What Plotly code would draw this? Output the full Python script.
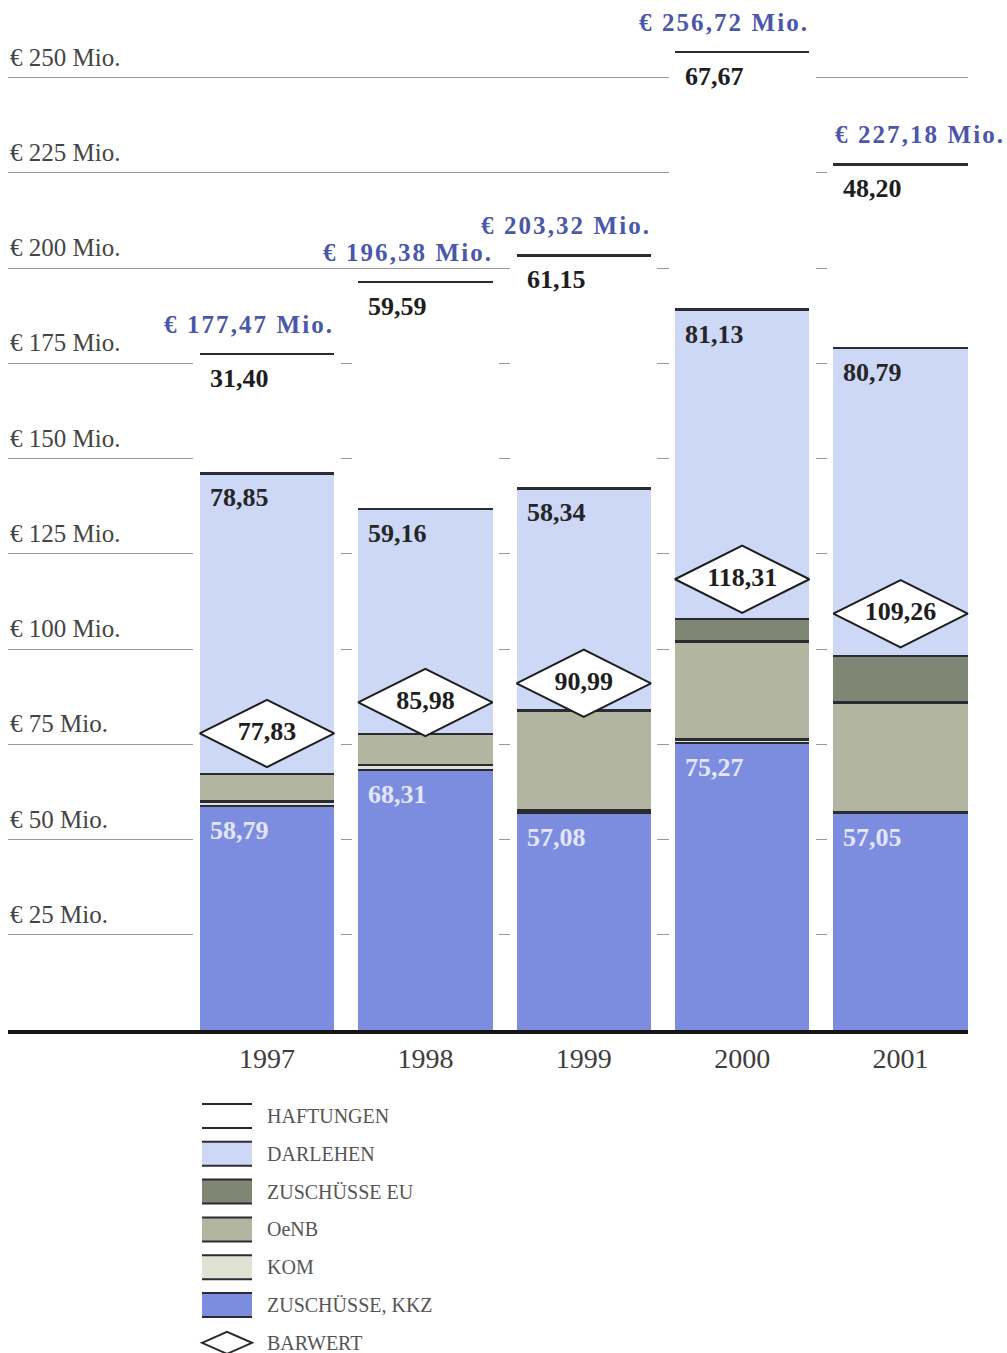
import plotly.graph_objects as go

# --- data (Mio. EUR) -------------------------------------------------------
jahre = ["1997", "1998", "1999", "2000", "2001"]
zuschuesse_kkz = [58.79, 68.31, 57.08, 75.27, 57.05]
kom = [1.20, 1.20, 0.50, 1.00, 0.00]
oenb = [7.23, 8.12, 26.25, 25.65, 28.94]
zuschuesse_eu = [0.00, 0.00, 0.00, 6.00, 12.20]
darlehen = [78.85, 59.16, 58.34, 81.13, 80.79]
haftungen = [31.40, 59.59, 61.15, 67.67, 48.20]
barwert = [77.83, 85.98, 90.99, 118.31, 109.26]
gesamt = [177.47, 196.38, 203.32, 256.72, 227.18]
y_ticks = [25, 50, 75, 100, 125, 150, 175, 200, 225, 250]
legend_labels = ["HAFTUNGEN", "DARLEHEN", "ZUSCHÜSSE EU", "OeNB", "KOM",
                 "ZUSCHÜSSE, KKZ", "BARWERT"]

# --- styling ---------------------------------------------------------------
W, H = 1007, 1353
M_L, M_R, M_T, M_B = 8, 39, 0, 323
PX_PER_MIO = 3.81
SERIF = "Liberation Serif"

C_KKZ = "#7c8de0"
C_KOM = "#e0e3d3"
C_OENB = "#b2b6a1"
C_EU = "#7f8673"
C_DARL = "#ccd8f6"
C_HAFT = "#ffffff"
C_LINE = "#2b2b33"
C_BLUE = "#4b57aa"
C_GREY_TXT = "#454545"

BAR_W = 0.849          # bar width in category units
HALO_W = 0.93          # white clearance around each column
LINE_H = 0.65          # thickness of segment separators (Mio.)
HAIR = "\u200a"        # hair space used to widen the total labels

x = list(range(len(jahre)))
plot_h = H - M_T - M_B
plot_w = W - M_L - M_R
y_top = plot_h / PX_PER_MIO

# stacking order, bottom to top
segments = [
    (zuschuesse_kkz, C_KKZ),
    (kom, C_KOM),
    (oenb, C_OENB),
    (zuschuesse_eu, C_EU),
    (darlehen, C_DARL),
    (haftungen, C_HAFT),
]

fig = go.Figure()

# cumulative bases of every segment
bases = []
running = [0.0] * len(x)
for vals, _ in segments:
    bases.append(list(running))
    running = [r + v for r, v in zip(running, vals)]
column_tops = running

# white clearance so grid lines stop short of the columns
fig.add_trace(go.Bar(x=x, y=column_tops, base=[0] * len(x), width=HALO_W,
                     marker=dict(color="white", line=dict(width=0)),
                     hoverinfo="skip", showlegend=False))

for (vals, col), base in zip(segments, bases):
    fig.add_trace(go.Bar(x=x, y=vals, base=base, width=BAR_W,
                         marker=dict(color=col, line=dict(width=0)),
                         opacity=1, hoverinfo="skip", showlegend=False))

# dark separators on top of every segment
sep_x, sep_base = [], []
for (vals, _), base in zip(segments, bases):
    for xi, b, v in zip(x, base, vals):
        sep_x.append(xi)
        sep_base.append(b + v - LINE_H / 2)
fig.add_trace(go.Bar(x=sep_x, y=[LINE_H] * len(sep_x), base=sep_base,
                     width=BAR_W, marker=dict(color=C_LINE, line=dict(width=0)),
                     hoverinfo="skip", showlegend=False))


def fmt(v):
    return f"{v:.2f}".replace(".", ",")


def spaced(s):
    return HAIR.join(s)


# Barwert diamonds
fig.add_trace(go.Scatter(
    x=x, y=barwert, mode="markers+text",
    marker=dict(symbol="diamond-wide", size=96, color="white",
                line=dict(color="#1e1e1e", width=2)),
    text=[fmt(v) for v in barwert], textposition="middle center",
    textfont=dict(family=SERIF, size=26, color="#1e1e1e", weight="bold"),
    hoverinfo="skip", showlegend=False, cliponaxis=False))

annotations = []

# y-axis labels sitting on the grid lines
for v in y_ticks:
    annotations.append(dict(
        x=0, xref="paper", y=v, yref="y", xanchor="left", yanchor="bottom",
        yshift=5, text=f"€ {v} Mio.", showarrow=False,
        font=dict(family=SERIF, size=25, color=C_GREY_TXT)))

# value labels inside the columns
kkz_top = [b + v for b, v in zip(bases[0], zuschuesse_kkz)]
darl_top = [b + v for b, v in zip(bases[4], darlehen)]
for i in x:
    left = i - BAR_W / 2
    annotations.append(dict(
        x=left, y=kkz_top[i], xanchor="left", yanchor="top", xshift=8, yshift=-8,
        text=fmt(zuschuesse_kkz[i]), showarrow=False,
        font=dict(family=SERIF, size=26, color="#e3e6fb", weight="bold")))
    annotations.append(dict(
        x=left, y=darl_top[i], xanchor="left", yanchor="top", xshift=8, yshift=-8,
        text=fmt(darlehen[i]), showarrow=False,
        font=dict(family=SERIF, size=26, color="#262626", weight="bold")))
    annotations.append(dict(
        x=left, y=column_tops[i], xanchor="left", yanchor="top", xshift=8, yshift=-8,
        text=fmt(haftungen[i]), showarrow=False,
        font=dict(family=SERIF, size=26, color="#1e1e1e", weight="bold")))
    # column totals above the columns
    last = i == len(x) - 1
    annotations.append(dict(
        x=(i - BAR_W / 2) if last else (i + BAR_W / 2), y=gesamt[i],
        xanchor="left" if last else "right", yanchor="bottom", yshift=14,
        text=spaced(f"€ {fmt(gesamt[i])} Mio.").replace(" ", "\u00a0"),
        showarrow=False,
        font=dict(family=SERIF, size=25, color=C_BLUE, weight="bold")))

# --- legend drawn below the chart ------------------------------------------
def px_x(px):
    return (px - M_L) / plot_w


def px_y(py):
    return (H - M_B - py) / plot_h


shapes = []
LEG_X0, LEG_X1 = 202, 252
LEG_TOP, LEG_PITCH, LEG_SW_H = 1104, 37.8, 24
leg_fill = [C_HAFT, C_DARL, C_EU, C_OENB, C_KOM, C_KKZ]
for k, label in enumerate(legend_labels):
    top = LEG_TOP + k * LEG_PITCH
    bot = top + LEG_SW_H
    mid = (top + bot) / 2
    if k < len(leg_fill):
        shapes.append(dict(type="rect", xref="paper", yref="paper",
                           x0=px_x(LEG_X0), x1=px_x(LEG_X1),
                           y0=px_y(bot), y1=px_y(top),
                           fillcolor=leg_fill[k], line=dict(width=0)))
        for yy in (top, bot):
            shapes.append(dict(type="line", xref="paper", yref="paper",
                               x0=px_x(LEG_X0), x1=px_x(LEG_X1),
                               y0=px_y(yy), y1=px_y(yy),
                               line=dict(color=C_LINE, width=2)))
    else:
        cx = (LEG_X0 + LEG_X1) / 2
        path = (f"M {px_x(LEG_X0)} {px_y(mid)} L {px_x(cx)} {px_y(mid - 11)} "
                f"L {px_x(LEG_X1)} {px_y(mid)} L {px_x(cx)} {px_y(mid + 11)} Z")
        shapes.append(dict(type="path", xref="paper", yref="paper", path=path,
                           fillcolor="white", line=dict(color="#2a2a2a", width=2)))
    annotations.append(dict(
        x=px_x(265), y=px_y(mid), xref="paper", yref="paper",
        xanchor="left", yanchor="middle", text=label, showarrow=False,
        font=dict(family=SERIF, size=20, color="#555555")))

fig.update_layout(
    width=W, height=H,
    margin=dict(l=M_L, r=M_R, t=M_T, b=M_B, pad=0),
    paper_bgcolor="white", plot_bgcolor="white",
    barmode="overlay", bargap=0,
    showlegend=False,
    annotations=annotations,
    shapes=shapes,
    xaxis=dict(
        range=[-1.635, -1.635 + plot_w / (158.4)],
        tickvals=x, ticktext=jahre, ticks="",
        tickfont=dict(family=SERIF, size=28, color="#3d3d3d"),
        showgrid=False, zeroline=False,
        showline=True, linecolor="#151515", linewidth=4,
        fixedrange=True,
    ),
    yaxis=dict(
        range=[0, y_top], tickvals=y_ticks, showticklabels=False, ticks="",
        showgrid=True, gridcolor="#9a9a9a", gridwidth=1,
        zeroline=False, showline=False, fixedrange=True,
    ),
)

fig.write_html("out.html")
